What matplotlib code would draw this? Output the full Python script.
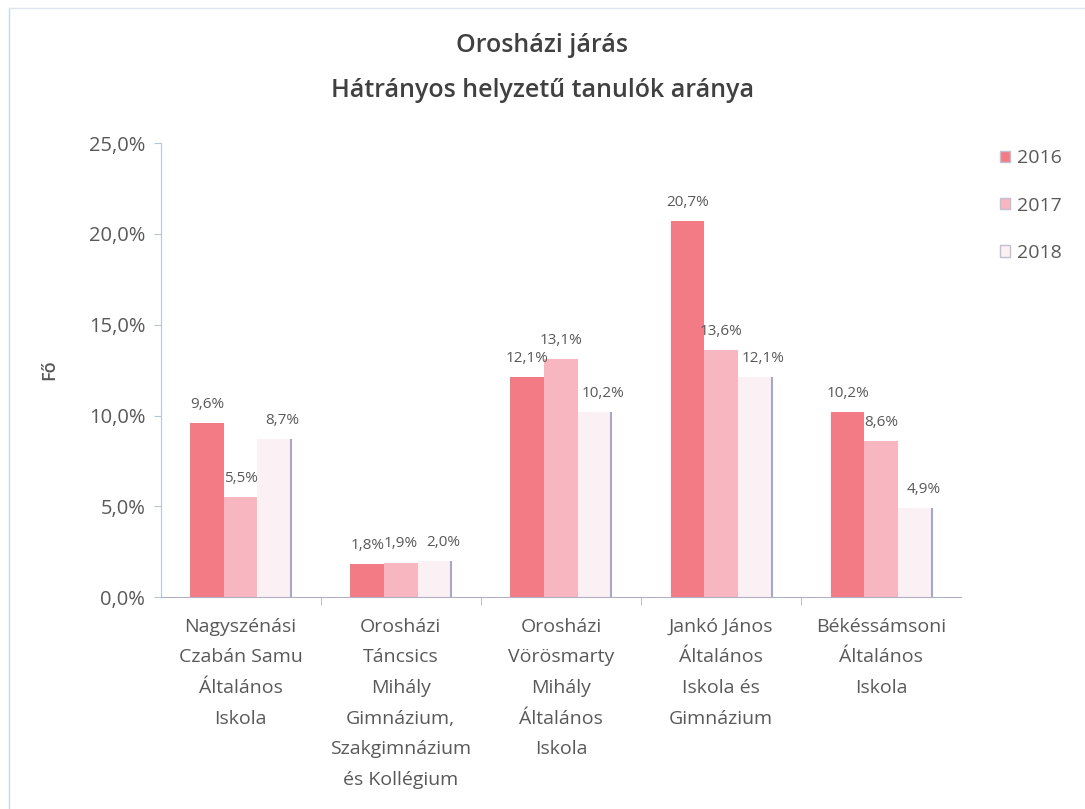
import numpy as np
import matplotlib.pyplot as plt

schools = ["Nagyszénási\nCzabán Samu\nÁltalános\nIskola",
           "Orosházi\nTáncsics\nMihály\nGimnázium,\nSzakgimnázium\nés Kollégium",
           "Orosházi\nVörösmarty\nMihály\nÁltalános\nIskola",
           "Jankó János\nÁltalános\nIskola és\nGimnázium",
           "Békéssámsoni\nÁltalános\nIskola"]
years = ["2016", "2017", "2018"]
v2016 = [9.6, 1.8, 12.1, 20.7, 10.2]
v2017 = [5.5, 1.9, 13.1, 13.6, 8.6]
v2018 = [8.7, 2.0, 10.2, 12.1, 4.9]

plt.rcParams['font.family'] = ['Open Sans', 'DejaVu Sans']
grey = '#595959'

fig = plt.figure(figsize=(10.85, 8.09), dpi=100)
ax = fig.add_axes([0.148, 0.262, 0.738, 0.561])

x = np.arange(len(schools))
w = 0.21
colors = ['#f27b86', '#f8b6c0', '#fbf1f4']
series = [v2016, v2017, v2018]
for i, (vals, c, yr) in enumerate(zip(series, colors, years)):
    pos = x + (i - 1) * w
    bars = ax.bar(pos, vals, w, color=c, label=yr, edgecolor='none')
    if i == 2:
        ax.vlines(pos + w / 2, 0, vals, color='#a7a9c4', lw=1.5)
    # 2018 labels sit a bit to the right, like in the original
    dx = 6 if i == 2 else 0
    for p, v in zip(pos, vals):
        ax.annotate(f"{v:.1f}%".replace('.', ','), (p, v), xytext=(dx, 8),
                    textcoords='offset points', ha='center', va='bottom',
                    fontsize=11, color=grey)

ax.set_ylim(0, 25)
ax.set_xlim(-0.5, len(schools) - 0.5)
ax.set_yticks(np.arange(0, 26, 5))
ax.set_yticklabels([f"{t:.1f}%".replace('.', ',') for t in np.arange(0, 26, 5)],
                   fontsize=14.5, color=grey)
ax.set_xticks(x)
ax.set_xticklabels(schools, fontsize=14, color=grey, linespacing=1.9)
ax.tick_params(axis='x', length=0, pad=15)
ax.set_xticks(np.arange(0.5, len(schools) - 1, 1), minor=True)
ax.tick_params(axis='x', which='minor', length=6, color='#b0b0c0')
ax.tick_params(axis='y', length=5, color='#b8c4d8', pad=6)
ax.set_ylabel("Fő", fontsize=13, color=grey, fontweight='semibold', labelpad=22)

for s in ['top', 'right']:
    ax.spines[s].set_visible(False)
ax.spines['left'].set_color('#b8c4d8')
ax.spines['bottom'].set_color('#b0b0c0')

fig.text(0.5, 0.944, "Orosházi járás", ha='center', va='center',
         fontsize=18, fontweight='semibold', color='#404040')
fig.text(0.5, 0.888, "Hátrányos helyzetű tanulók aránya", ha='center', va='center',
         fontsize=18, fontweight='semibold', color='#404040')

leg = ax.legend(loc='upper left', bbox_to_anchor=(1.026, 1.025), frameon=False,
                fontsize=14, handlelength=0.55, handleheight=0.55, labelcolor=grey,
                labelspacing=1.5, handletextpad=0.35)
for h in leg.legend_handles:
    h.set_edgecolor('#c0c0d0')

fig.add_artist(plt.Line2D([0.008, 0.008], [0.0, 0.99], color='#c8d8e8', lw=1))
fig.add_artist(plt.Line2D([0.008, 1.0], [0.99, 0.99], color='#dde4ee', lw=1))

fig.savefig("out.png", dpi=100)
